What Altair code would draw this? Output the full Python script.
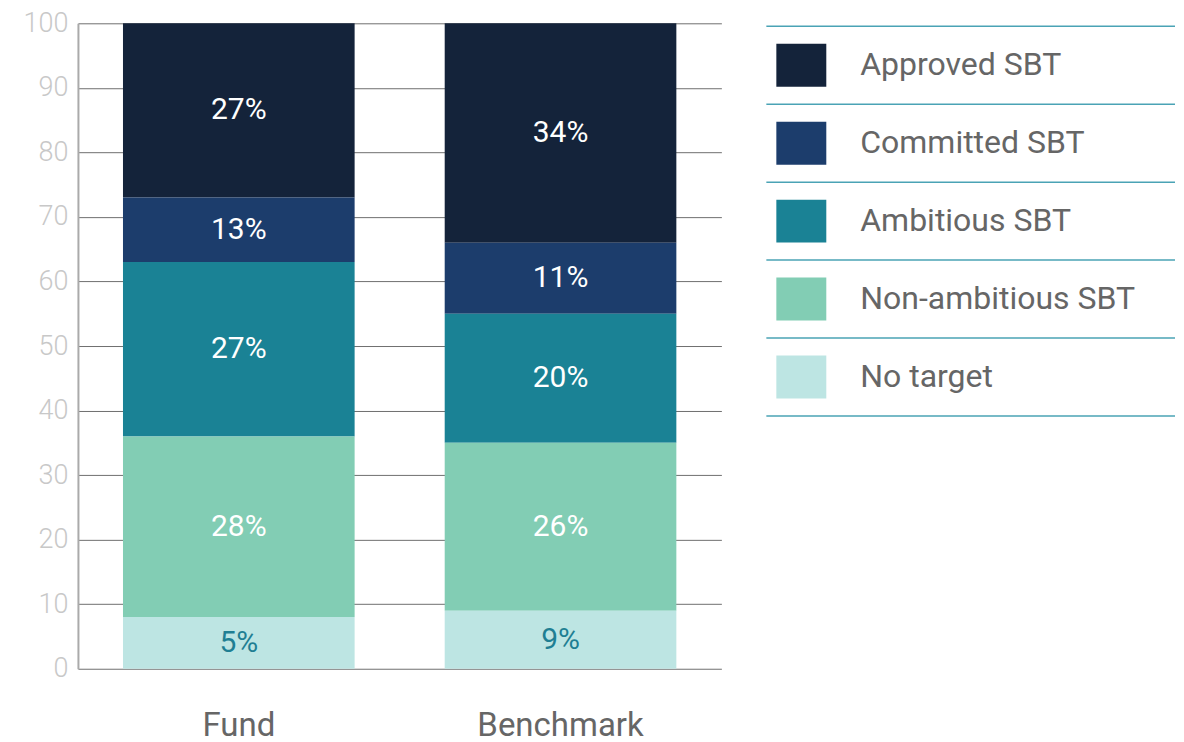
import altair as alt
import pandas as pd

groups = ["Fund", "Benchmark"]
categories = ["Approved SBT", "Committed SBT", "Ambitious SBT", "Non-ambitious SBT", "No target"]
colors = ["#14233a", "#1c3d6c", "#1a8295", "#82cdb4", "#bde5e3"]
fund_values = [27, 10, 27, 28, 8]
benchmark_values = [34, 11, 20, 26, 9]
fund_labels = ["27%", "13%", "27%", "28%", "5%"]
benchmark_labels = ["34%", "11%", "20%", "26%", "9%"]
label_colors = ["#ffffff", "#ffffff", "#ffffff", "#ffffff", "#1f7f93"]
y_ticks = list(range(0, 101, 10))

rows = []
for g, vals, labs in [("Fund", fund_values, fund_labels), ("Benchmark", benchmark_values, benchmark_labels)]:
    for i, c in enumerate(categories):
        rows.append({"group": g, "category": c, "value": vals[i], "label": labs[i],
                     "label_color": label_colors[i], "rank": len(categories) - 1 - i})
df = pd.DataFrame(rows)
legend_df = pd.DataFrame({"category": categories, "color": colors})

FONT = "Roboto"
base = alt.Chart(df).transform_stack(
    stack="value", as_=["y0", "y1"], groupby=["group"], sort=[alt.SortField("rank", order="ascending")]
).transform_calculate(mid="(datum.y0 + datum.y1) / 2")

xenc = alt.X("group:N", sort=groups, title=None,
             scale=alt.Scale(paddingInner=0.28, paddingOuter=0.14),
             axis=alt.Axis(labelAngle=0, labelFontSize=33, labelColor="#666666", labelFont=FONT,
                           labelPadding=41, ticks=False, domain=False))

bars = base.mark_bar().encode(
    x=xenc,
    y=alt.Y("y0:Q", title=None, scale=alt.Scale(domain=[0, 100], nice=False),
            axis=alt.Axis(values=y_ticks, labelFontSize=27, labelColor="#c8c8c8", labelFont=FONT,
                          labelFontWeight=300, labelPadding=10, ticks=False, domain=True,
                          domainColor="#aaaaaa", domainWidth=2, grid=True, gridColor="#6e6e6e",
                          gridWidth=1, minExtent=70, maxExtent=70)),
    y2="y1:Q",
    color=alt.Color("category:N", scale=alt.Scale(domain=categories, range=colors), legend=None),
)

texts = base.mark_text(fontSize=30, font=FONT, baseline="middle", align="center").encode(
    x=alt.X("group:N", sort=groups),
    y=alt.Y("mid:Q"),
    text="label:N",
    color=alt.Color("label_color:N", scale=None),
)

main = alt.layer(bars, texts).properties(width=644, height=646)

LW = 409
lscale = alt.Scale(paddingInner=0, paddingOuter=0, range=[3, 393])
lbase = alt.Chart(legend_df)
yl = alt.Y("category:N", sort=categories, title=None, axis=None, scale=lscale)

swatch = lbase.mark_point(filled=True, opacity=1,
                          shape="M -1 -0.86 H 1 V 0.86 H -1 Z", size=2500).encode(
    x=alt.value(35), y=yl,
    color=alt.Color("color:N", scale=None),
)
ltext = lbase.mark_text(align="left", baseline="middle", fontSize=32, font=FONT, color="#666666").encode(
    x=alt.value(94), y=yl, text="category:N"
)
rules_top = lbase.mark_rule(color="#4aa3b5", strokeWidth=1.5).encode(
    x=alt.value(0), x2=alt.value(LW),
    y=alt.Y("category:N", sort=categories, bandPosition=0, title=None, axis=None, scale=lscale),
)
rule_bottom = lbase.transform_filter(alt.datum.category == categories[-1]).mark_rule(
    color="#4aa3b5", strokeWidth=1.5).encode(
    x=alt.value(0), x2=alt.value(LW),
    y=alt.Y("category:N", sort=categories, bandPosition=1, title=None, axis=None, scale=lscale),
)
legend = alt.layer(rules_top, rule_bottom, swatch, ltext).properties(width=LW, height=646)

chart = alt.hconcat(main, legend, spacing=45, bounds="flush").properties(
    padding={"left": 0, "top": 1, "right": 0, "bottom": 0}
).configure_view(stroke=None)

chart.save("out.html", embed_options={"renderer": "svg", "actions": False})
